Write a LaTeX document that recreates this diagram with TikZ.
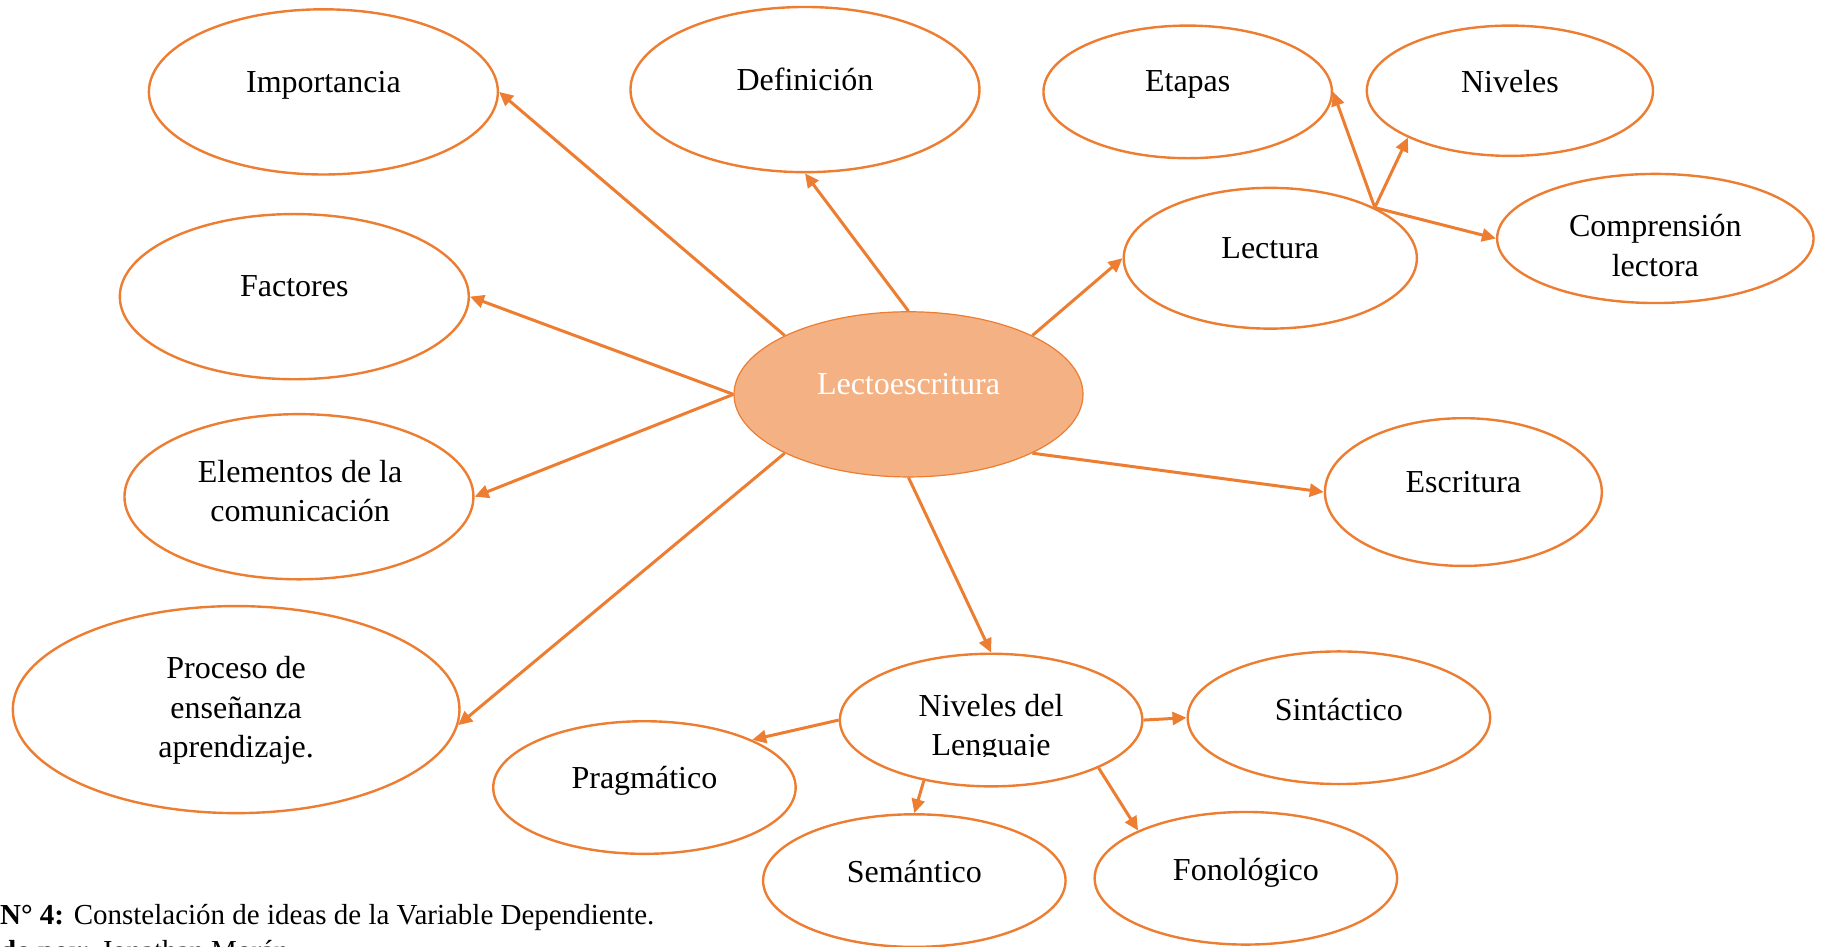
\documentclass[tikz,border=0pt]{standalone}
\usepackage{fontspec}
\setmainfont{Liberation Serif}
\usetikzlibrary{shapes.geometric,arrows.meta}
\definecolor{orng}{HTML}{ED7D31}
\definecolor{peach}{HTML}{F4B183}
\def\pxu{1.1633pt}
\begin{document}
\begin{tikzpicture}[x=1.1633pt,y=-1.1633pt,
 ell/.style 2 args={ellipse,draw=orng,line width=2.4pt,fill=white,inner sep=0pt,minimum width={#1*\pxu},minimum height={#2*\pxu}},
 lbl/.style={font=\fontsize{32}{39.5}\selectfont,align=center,inner sep=0pt},
 captxt/.style={anchor=base west,inner sep=0pt,font=\fontsize{29}{36}\selectfont},
 arr/.style={draw=orng,line width=3pt,-{Triangle[length=14pt,width=13pt]}}
]
\useasboundingbox (0,0) rectangle (1568,814);
\clip (0,0) rectangle (1568,814);

\node[ell={300}{142}] (imp) at (278,79) {};
\node[ell={300}{142}] (def) at (692,77) {};
\node[ell={248}{114}] (eta) at (1021,79) {};
\node[ell={246}{112}] (niv) at (1298,78) {};
\node[ell={252}{121}] (lec) at (1092,222) {};
\node[ell={272}{111}] (com) at (1423,205) {};
\node[ell={300}{142}] (fac) at (253,255) {};
\node[ell={300}{142},fill=peach,line width=1.2pt] (lecto) at (781,339) {};
\node[ell={300}{142}] (ele) at (257,427) {};
\node[ell={238}{127}] (esc) at (1258,423) {};
\node[ell={384}{178}] (pro) at (203,610) {};
\node[ell={260}{114}] (ndl) at (852,619) {};
\node[ell={260}{114}] (sin) at (1151,617) {};
\node[ell={260}{114}] (pra) at (554,677) {};
\node[ell={260}{114}] (sem) at (786,757) {};
\node[ell={260}{114}] (fon) at (1071,755) {};

\node[lbl] (imp-t) at (278,73) {Importancia};
\node[lbl] (def-t) at (692,68) {Definición};
\node[lbl] (eta-t) at (1021,73) {Etapas};
\node[lbl] (niv-t) at (1298,70) {Niveles};
\node[lbl] (lec-t) at (1092,213) {Lectura};
\node[lbl] (com-t) at (1423,211) {Comprensión\\lectora};
\node[lbl] (fac-t) at (253,246) {Factores};
\node[lbl,text=white] (lecto-t) at (781,330) {Lectoescritura};
\node[lbl] (ele-t) at (258,422) {Elementos de la\\comunicación};
\node[lbl] (esc-t) at (1258,414) {Escritura};
\node[lbl] (pro-t) at (203,611) {Proceso de\\enseñanza\\aprendizaje.};
\begin{scope}
\clip (700,560) rectangle (1000,650);
\node[lbl] (ndl-t) at (852,626) {Niveles del\\Lenguaje};
\end{scope}
\node[lbl] (sin-t) at (1151,610) {Sintáctico};
\node[lbl] (pra-t) at (554,671) {Pragmático};
\node[lbl] (sem-t) at (786,749) {Semántico};
\node[lbl] (fon-t) at (1071,750) {Fonológico};

\draw[arr] (lecto.north west) -- (imp.east);
\draw[arr] (lecto.north) -- (def.south);
\draw[arr] (lecto.north east) -- (lec.west);
\draw[arr] (lecto.west) -- (fac.east);
\draw[arr] (lecto.west) -- (ele.east);
\draw[arr] (lecto.south east) -- (esc.west);
\draw[arr] (lecto.south west) -- (pro.-4);
\draw[arr] (lecto.south) -- (ndl.north);
\draw[arr] (lec.north east) -- (eta.east);
\draw[arr] (lec.north east) -- (niv.south west);
\draw[arr] (lec.north east) -- (com.west);
\draw[arr] (ndl.west) -- (pra.north east);
\draw[arr] (ndl.east) -- (sin.west);
\draw[arr] (ndl.-138) -- (sem.north);
\draw[arr] (ndl.-24) -- (fon.north west);

\node[captxt] (cap1) at (0,795) {\textbf{N° 4:} Constelación de ideas de la Variable Dependiente.};
\node[captxt] (cap2) at (0,826) {\textbf{do por:} Jonathan Morán};
\end{tikzpicture}
\end{document}
